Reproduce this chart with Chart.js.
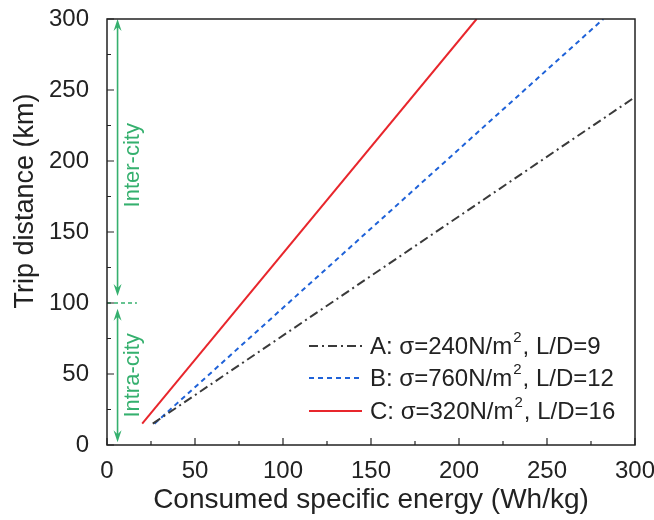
<!DOCTYPE html>
<html>
<head>
<meta charset="utf-8">
<script src="https://cdn.jsdelivr.net/npm/chart.js@4/dist/chart.umd.min.js"></script>
<style>
html, body { margin: 0; padding: 0; background: #fff; }
</style>
</head>
<body>
<canvas id="chart" width="654" height="520"></canvas>
<script>
// ── DATOS ─────────────────────────────────────────────
const SERIES_LABELS = ['A: σ=240N/m², L/D=9', 'B: σ=760N/m², L/D=12', 'C: σ=320N/m², L/D=16'];
const ENERGY_A = [26, 300];
const TRIP_A = [15, 245];
const ENERGY_B = [27, 282];
const TRIP_B = [15, 300];
const ENERGY_C = [20, 210];
const TRIP_C = [15, 300];

const X_TICKS = [0, 50, 100, 150, 200, 250, 300];
const Y_TICKS = [0, 50, 100, 150, 200, 250, 300];
const X_TITLE = 'Consumed specific energy (Wh/kg)';
const Y_TITLE = 'Trip distance (km)';

// zonas: inter-city / intra-city
const ZONE_LABELS = ['Inter-city', 'Intra-city'];
const ZONE_LABEL_Y = [197, 49];
const ZONE_X = 6;
const INTER_RANGE = [105, 300];
const INTRA_RANGE = [2, 96];
const ZONE_BOUNDARY = 100;
const BOUNDARY_X = [0, 17];

const COLORS = {
    a: '#3a3a3a',
    b: '#1f62d8',
    c: '#e8262c',
    green: '#35b06e',
    axis: '#222',
};
const DASHES = [[9, 4, 2, 4], [5, 4], []];
const FONT = "'Liberation Sans', Arial, sans-serif";

Chart.defaults.font.family = FONT;
Chart.defaults.color = COLORS.axis;

function puntos(xs, ys) {
    return xs.map((x, i) => ({ x, y: ys[i] }));
}

function arrowHead(ctx, x, yTip, dir) {
    // dir = -1 apunta arriba, 1 apunta abajo
    ctx.beginPath();
    ctx.moveTo(x, yTip);
    ctx.lineTo(x - 4, yTip - dir * 12);
    ctx.lineTo(x, yTip - dir * 8);
    ctx.lineTo(x + 4, yTip - dir * 12);
    ctx.closePath();
    ctx.fill();
}

// texto con superíndice para el "²"
function textoSup(ctx, text, x, y) {
    const partes = text.split('²');
    ctx.font = `24px ${FONT}`;
    ctx.fillText(partes[0], x, y);
    x += ctx.measureText(partes[0]).width + 1;
    if (partes.length > 1) {
        ctx.font = `15px ${FONT}`;
        ctx.fillText('2', x, y - 9);
        x += ctx.measureText('2').width + 1;
        ctx.font = `24px ${FONT}`;
        ctx.fillText(partes[1], x, y);
    }
}

const decoraciones = {
    id: 'decoraciones',
    afterDatasetsDraw(chart) {
        const { ctx, chartArea: a, scales: { x, y } } = chart;
        ctx.save();

        // flechas verdes
        ctx.strokeStyle = COLORS.green;
        ctx.fillStyle = COLORS.green;
        ctx.lineWidth = 1.6;
        const ax = x.getPixelForValue(ZONE_X);
        [INTER_RANGE, INTRA_RANGE].forEach(r => {
            const y0 = y.getPixelForValue(r[0]);
            const y1 = y.getPixelForValue(r[1]);
            ctx.beginPath();
            ctx.moveTo(ax, y0 - 6);
            ctx.lineTo(ax, y1 + 6);
            ctx.stroke();
            arrowHead(ctx, ax, y1, -1);
            arrowHead(ctx, ax, y0, 1);
        });

        // línea discontinua en 100
        ctx.setLineDash([4, 3]);
        ctx.beginPath();
        const yb = y.getPixelForValue(ZONE_BOUNDARY);
        ctx.moveTo(x.getPixelForValue(BOUNDARY_X[0]), yb);
        ctx.lineTo(x.getPixelForValue(BOUNDARY_X[1]), yb);
        ctx.stroke();
        ctx.setLineDash([]);

        // etiquetas rotadas
        ctx.font = `22px ${FONT}`;
        ctx.textAlign = 'center';
        ctx.textBaseline = 'middle';
        ZONE_LABELS.forEach((t, i) => {
            ctx.save();
            ctx.translate(x.getPixelForValue(15), y.getPixelForValue(ZONE_LABEL_Y[i]));
            ctx.rotate(-Math.PI / 2);
            ctx.fillText(t, 0, 0);
            ctx.restore();
        });

        // marco
        ctx.strokeStyle = COLORS.axis;
        ctx.lineWidth = 1.5;
        ctx.strokeRect(a.left, a.top, a.right - a.left, a.bottom - a.top);

        // ticks hacia dentro (mayores cada 50, menores cada 25)
        ctx.lineWidth = 1.2;
        ctx.beginPath();
        for (let v = 0; v <= 300; v += 25) {
            const len = v % 50 === 0 ? 7 : 4;
            const px = x.getPixelForValue(v);
            ctx.moveTo(px, a.bottom);
            ctx.lineTo(px, a.bottom - len);
            const py = y.getPixelForValue(v);
            ctx.moveTo(a.left, py);
            ctx.lineTo(a.left + len, py);
        }
        ctx.stroke();

        // título eje y (desplazado hacia arriba como en el original)
        ctx.fillStyle = COLORS.axis;
        ctx.font = `27px ${FONT}`;
        ctx.save();
        ctx.translate(26, 201);
        ctx.rotate(-Math.PI / 2);
        ctx.fillText(Y_TITLE, 0, 0);
        ctx.restore();

        // leyenda
        ctx.textAlign = 'left';
        ctx.textBaseline = 'middle';
        const filas = [a.bottom - 99, a.bottom - 67, a.bottom - 34];
        const lx0 = a.right - 326;
        chart.data.datasets.forEach((ds, i) => {
            ctx.strokeStyle = ds.borderColor;
            ctx.lineWidth = ds.borderWidth;
            ctx.setLineDash(ds.borderDash);
            ctx.beginPath();
            ctx.moveTo(lx0, filas[i]);
            ctx.lineTo(lx0 + 53, filas[i]);
            ctx.stroke();
            ctx.setLineDash([]);
            ctx.fillStyle = COLORS.axis;
            textoSup(ctx, ds.label, lx0 + 61, filas[i] + 1);
        });

        ctx.restore();
    },
};

const series = [
    [ENERGY_A, TRIP_A, COLORS.a],
    [ENERGY_B, TRIP_B, COLORS.b],
    [ENERGY_C, TRIP_C, COLORS.c],
];

new Chart(document.getElementById('chart'), {
    type: 'scatter',
    data: {
        datasets: series.map((s, i) => ({
            label: SERIES_LABELS[i],
            data: puntos(s[0], s[1]),
            showLine: true,
            borderColor: s[2],
            borderWidth: 2,
            borderDash: DASHES[i],
            pointRadius: 0,
        })),
    },
    options: {
        responsive: false,
        animation: false,
        layout: { padding: { top: 19, right: 19, left: 0, bottom: 0 } },
        plugins: { legend: { display: false }, tooltip: { enabled: false } },
        scales: {
            x: {
                type: 'linear',
                min: 0,
                max: 300,
                afterBuildTicks: s => { s.ticks = X_TICKS.map(v => ({ value: v })); },
                ticks: { font: { size: 24 }, color: COLORS.axis, padding: 4, maxRotation: 0 },
                grid: { display: false },
                border: { display: false },
                title: {
                    display: true,
                    text: X_TITLE,
                    font: { size: 28 },
                    color: COLORS.axis,
                    padding: { top: 0, bottom: 3 },
                },
                afterFit: s => { s.height = 75; s.paddingLeft = 0; s.paddingRight = 0; },
            },
            y: {
                type: 'linear',
                min: 0,
                max: 300,
                afterBuildTicks: s => { s.ticks = Y_TICKS.map(v => ({ value: v })); },
                ticks: { font: { size: 24 }, color: COLORS.axis, padding: 10 },
                grid: { display: false },
                border: { display: false },
                afterFit: s => { s.width = 107; s.paddingTop = 0; s.paddingBottom = 0; },
            },
        },
    },
    plugins: [decoraciones],
});
</script>
</body>
</html>
